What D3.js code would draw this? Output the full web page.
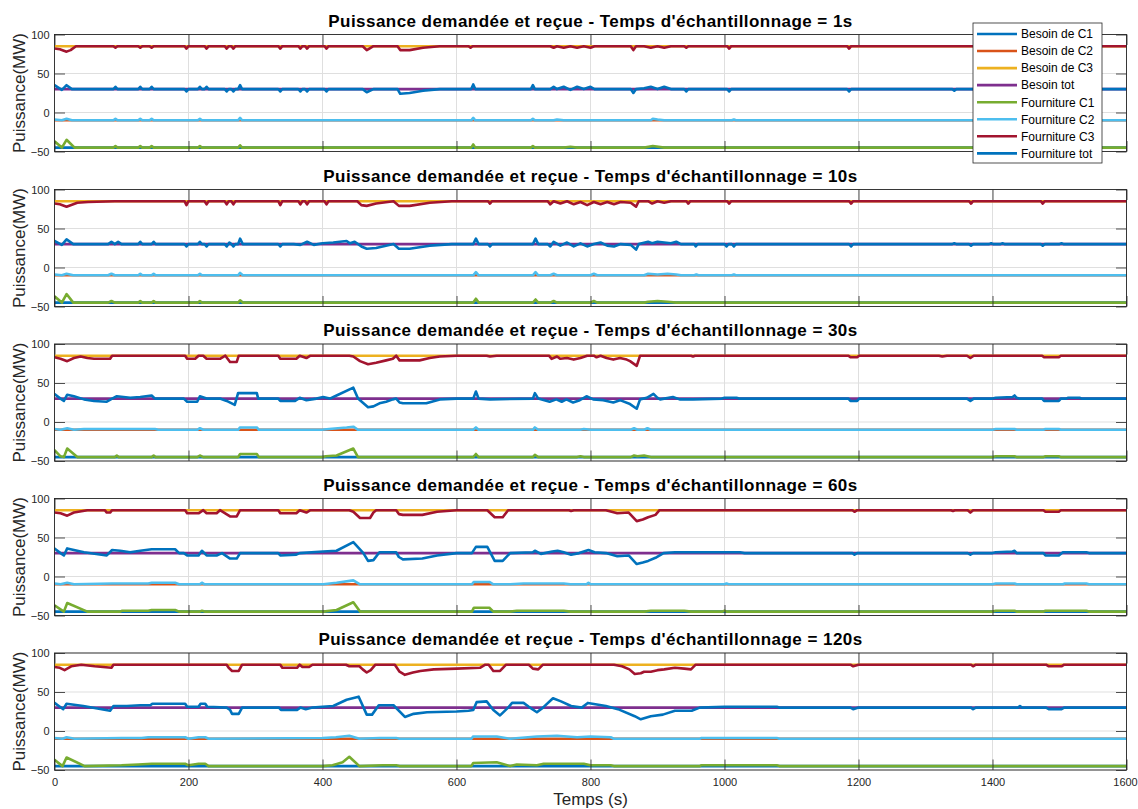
<!DOCTYPE html>
<html>
<head>
<meta charset="utf-8">
<script src="https://cdn.jsdelivr.net/npm/d3@7"></script>
<style>
  body { margin: 0; background: #fff; }
  svg { display: block; font-family: "Liberation Sans", Arial, Helvetica, sans-serif; }
</style>
</head>
<body>
<div id="chart"></div>
<script>
// Données : paires [temps (s), puissance (MW)]

const xTicks = [0, 200, 400, 600, 800, 1000, 1200, 1400, 1600];
const yTicks = [-50, 0, 50, 100];
const sampleTimes = ['1s', '10s', '30s', '60s', '120s'];

const seriesNames = ['Besoin de C1', 'Besoin de C2', 'Besoin de C3', 'Besoin tot',
  'Fourniture C1', 'Fourniture C2', 'Fourniture C3', 'Fourniture tot'];
const seriesColors = ['#0072BD', '#D95319', '#EDB120', '#7E2F8E',
  '#77AC30', '#4DBEEE', '#A2142F', '#0072BD'];

// besoins (identiques pour les 5 essais)
const besoinC1 = [[0, -45], [1600, -45]];
const besoinC2 = [[0, -10], [1600, -10]];
const besoinC3 = [[0, 85], [1600, 85]];
const besoinTot = [[0, 30], [1600, 30]];

// ---- Te = 1s
const fournC3_1 = [[0,82],[8,81],[18,78],[24,80],[32,85],[88,85],[91,83],[94,85],[125,85],[128,83],[131,85],[142,85],[145,83],[148,85],[194,85],[197,82],[200,85],[224,85],[227,82],[230,85],[254,85],[257,82],[260,85],[264,85],[267,82],[270,85],[334,85],[337,82],[340,85],[364,85],[367,82],[370,85],[374,85],[377,82],[380,85],[403,85],[406,82],[409,85],[460,85],[466,80],[470,82],[476,85],[512,85],[516,80],[530,80],[550,83],[575,85],[618,85],[621,83],[624,85],[740,85],[745,83],[750,85],[760,83],[770,85],[780,83],[790,85],[800,83],[806,85],[860,85],[864,80],[868,85],[880,85],[890,83],[900,85],[910,83],[920,85],[940,85],[943,83],[946,85],[1004,85],[1007,82],[1010,85],[1183,85],[1186,82],[1189,85],[1600,85]];
const fournTot_1 = [[0,35],[11,29],[18,35],[26,30],[88,30],[91,33],[94,30],[125,30],[128,33],[131,30],[142,30],[145,33],[148,30],[194,30],[197,27],[200,30],[214,30],[217,33],[220,30],[224,30],[227,33],[230,30],[254,30],[257,27],[260,30],[264,30],[267,27],[270,30],[274,30],[277,35],[280,30],[334,30],[337,27],[340,30],[364,30],[367,27],[370,30],[374,30],[377,27],[380,30],[403,30],[406,27],[409,30],[460,30],[466,26],[476,30],[512,30],[516,24],[530,25],[550,28],[575,30],[622,30],[625,36],[628,30],[711,30],[714,35],[717,30],[740,30],[745,33],[750,30],[760,33],[770,29],[780,33],[790,30],[800,33],[806,30],[860,30],[864,25],[868,30],[880,31],[890,33],[900,30],[910,33],[920,30],[940,30],[943,27],[946,30],[1004,30],[1007,27],[1010,30],[1183,30],[1186,27],[1189,30],[1340,30],[1343,28],[1346,30],[1600,30]];
const fournC2_1 = [[0,-9],[11,-10],[18,-8],[26,-10],[88,-10],[91,-8],[94,-10],[125,-10],[128,-8],[131,-10],[142,-10],[145,-8],[148,-10],[214,-10],[217,-8],[220,-10],[274,-10],[277,-7],[280,-10],[622,-10],[625,-7],[628,-10],[711,-10],[714,-8],[717,-10],[745,-10],[750,-9],[760,-10],[890,-10],[893,-8],[900,-9],[910,-10],[1011,-10],[1014,-9],[1017,-10],[1600,-10]];
const fournC1_1 = [[0,-37],[11,-45],[18,-35],[24,-40],[30,-45],[88,-45],[91,-43],[94,-45],[125,-45],[128,-43],[131,-45],[142,-45],[145,-43],[148,-45],[214,-45],[217,-43],[220,-45],[274,-45],[277,-42],[280,-45],[622,-45],[625,-41],[628,-45],[711,-45],[714,-43],[717,-45],[760,-45],[770,-44],[780,-45],[880,-45],[893,-43],[910,-45],[1600,-45]];

// ---- Te = 10s
const fournC3_10 = [[0,82],[8,81],[18,78],[34,83],[50,84],[90,85],[194,85],[197,80],[200,85],[224,85],[227,81],[230,85],[254,85],[257,81],[260,85],[264,85],[267,81],[270,85],[334,85],[337,80],[340,85],[364,85],[367,81],[370,85],[374,85],[377,81],[380,85],[403,85],[406,81],[409,85],[452,85],[458,80],[466,79],[480,82],[506,85],[514,79],[530,79],[560,83],[593,85],[647,85],[650,82],[653,85],[736,85],[740,81],[745,85],[755,82],[765,85],[775,81],[785,84],[795,80],[805,84],[815,81],[825,84],[835,81],[845,84],[860,83],[868,78],[872,85],[886,85],[892,82],[900,85],[910,83],[920,85],[943,85],[946,82],[949,85],[1004,85],[1007,82],[1010,85],[1186,85],[1189,82],[1192,85],[1365,85],[1368,82],[1371,85],[1472,85],[1475,82],[1478,85],[1600,85]];
const fournTot_10 = [[0,34],[11,29],[18,36],[28,30],[80,30],[85,33],[90,30],[95,33],[100,30],[125,30],[128,33],[131,30],[145,30],[148,33],[151,30],[194,30],[197,27],[200,30],[214,30],[217,33],[220,30],[224,30],[227,27],[230,30],[254,30],[257,27],[261,32],[264,30],[267,27],[270,30],[274,30],[277,37],[281,30],[334,30],[337,27],[340,30],[357,30],[367,29],[377,33],[387,29],[400,31],[416,32],[426,33],[436,34],[441,31],[448,33],[458,27],[466,24],[480,25],[506,30],[514,24],[530,24],[560,28],[593,30],[625,30],[629,37],[633,30],[647,30],[650,27],[653,30],[714,30],[718,37],[722,30],[736,30],[740,27],[745,33],[755,28],[765,32],[775,27],[785,31],[795,27],[805,30],[815,32],[825,28],[835,27],[845,30],[860,29],[868,23],[872,30],[886,33],[892,31],[900,33],[910,32],[920,31],[928,33],[935,30],[955,30],[957,27],[960,30],[1000,30],[1003,27],[1006,30],[1011,30],[1014,27],[1017,30],[1186,30],[1189,27],[1192,30],[1340,30],[1343,31],[1346,30],[1365,30],[1368,28],[1371,30],[1395,30],[1398,31],[1401,30],[1412,30],[1415,31],[1418,30],[1472,30],[1475,28],[1478,30],[1500,30],[1503,31],[1506,30],[1600,30]];
const fournC2_10 = [[0,-9],[11,-10],[18,-8],[28,-10],[80,-10],[85,-8],[90,-10],[125,-10],[128,-8],[131,-10],[145,-10],[148,-8],[151,-10],[214,-10],[217,-8],[220,-10],[274,-10],[277,-7],[281,-10],[625,-10],[629,-6],[633,-10],[714,-10],[718,-6],[722,-10],[740,-10],[745,-8],[750,-10],[800,-10],[805,-8],[810,-10],[880,-10],[886,-8],[900,-9],[915,-8],[928,-9],[935,-10],[955,-10],[958,-9],[961,-10],[1011,-10],[1014,-9],[1017,-10],[1600,-10]];
const fournC1_10 = [[0,-37],[11,-45],[18,-34],[28,-45],[80,-45],[85,-43],[90,-45],[125,-45],[128,-43],[131,-45],[145,-45],[148,-43],[151,-45],[214,-45],[217,-43],[220,-45],[274,-45],[277,-42],[281,-45],[625,-45],[629,-40],[633,-45],[714,-45],[718,-41],[722,-45],[740,-45],[745,-43],[750,-45],[800,-45],[805,-43],[810,-45],[880,-45],[886,-44],[900,-43],[915,-44],[928,-45],[1600,-45]];

// ---- Te = 30s
const fournC3_30 = [[0,83],[9,81],[19,78],[29,82],[39,84],[49,82],[59,81],[83,81],[86,85],[195,85],[198,81],[210,81],[215,85],[222,85],[227,81],[247,81],[255,85],[262,77],[272,77],[275,85],[334,85],[337,81],[361,81],[366,85],[376,82],[382,85],[440,85],[446,84],[456,78],[468,74],[480,76],[495,79],[505,81],[510,85],[515,79],[545,79],[560,82],[575,84],[600,85],[645,85],[650,84],[660,85],[738,85],[742,81],[750,84],[755,81],[765,82],[775,80],[785,82],[795,85],[805,85],[809,83],[815,85],[824,82],[834,80],[844,82],[854,80],[859,78],[869,72],[874,85],[950,85],[953,84],[956,85],[1185,85],[1188,83],[1198,83],[1201,85],[1320,85],[1325,84],[1332,85],[1362,85],[1367,82],[1372,85],[1474,85],[1477,83],[1499,83],[1502,85],[1600,85]];
const fournTot_30 = [[0,36],[9,30],[14,27],[19,35],[29,33],[44,29],[59,27],[78,26],[86,30],[93,33],[113,31],[128,32],[145,34],[150,30],[193,30],[198,26],[213,26],[217,33],[227,30],[247,30],[257,27],[269,22],[274,37],[302,37],[304,30],[334,30],[337,27],[359,27],[366,31],[376,28],[391,30],[401,32],[411,30],[421,34],[446,44],[453,30],[468,19],[476,20],[485,24],[495,26],[505,29],[510,30],[515,25],[520,24],[555,24],[575,29],[600,30],[625,30],[629,39],[633,30],[650,29],[714,30],[717,37],[722,30],[739,26],[749,29],[757,26],[764,29],[774,25],[784,28],[794,33],[804,29],[819,28],[834,25],[844,28],[859,23],[869,17],[874,29],[884,31],[894,36],[900,31],[904,29],[923,32],[933,29],[953,29],[996,30],[1000,31],[1018,31],[1022,30],[1185,30],[1188,27],[1198,27],[1201,30],[1362,30],[1367,27],[1372,30],[1400,30],[1405,31],[1430,32],[1433,34],[1436,31],[1440,30],[1474,30],[1477,27],[1499,27],[1502,30],[1510,30],[1513,31],[1530,31],[1533,30],[1600,30]];
const fournC2_30 = [[0,-9],[9,-10],[19,-8],[29,-10],[44,-9],[150,-9],[155,-10],[213,-10],[217,-8],[222,-10],[274,-10],[277,-7],[302,-7],[305,-10],[399,-10],[410,-9],[436,-7],[446,-6],[453,-10],[625,-10],[629,-7],[633,-10],[714,-10],[717,-7],[722,-10],[785,-10],[790,-9],[800,-10],[860,-10],[865,-8],[870,-10],[880,-10],[885,-8],[890,-10],[1400,-10],[1405,-9],[1433,-9],[1436,-10],[1476,-10],[1479,-9],[1499,-9],[1502,-10],[1600,-10]];
const fournC1_30 = [[0,-36],[9,-44],[14,-45],[19,-34],[34,-45],[90,-45],[93,-43],[96,-45],[145,-45],[148,-43],[151,-45],[213,-45],[217,-43],[222,-45],[274,-45],[277,-41],[302,-41],[305,-45],[399,-45],[405,-44],[421,-43],[446,-34],[453,-45],[625,-45],[629,-41],[633,-45],[714,-45],[717,-42],[722,-45],[780,-45],[785,-44],[790,-45],[860,-45],[865,-43],[870,-44],[880,-43],[890,-45],[1400,-45],[1405,-44],[1433,-44],[1436,-45],[1476,-45],[1479,-44],[1499,-44],[1502,-45],[1600,-45]];

// ---- Te = 60s
const fournC3_60 = [[0,82],[9,81],[19,78],[29,82],[49,85],[75,85],[78,82],[83,82],[86,85],[195,85],[198,81],[215,81],[222,85],[227,81],[242,81],[247,85],[262,77],[272,77],[277,85],[334,85],[337,81],[361,81],[366,85],[376,82],[382,85],[440,85],[446,83],[456,75],[471,75],[476,82],[480,85],[510,85],[514,80],[520,79],[549,79],[571,83],[600,85],[646,85],[657,76],[669,76],[677,85],[768,85],[771,84],[775,85],[823,85],[840,81],[857,82],[869,71],[878,73],[886,76],[897,79],[903,85],[1191,85],[1194,83],[1198,85],[1338,85],[1341,84],[1344,85],[1363,85],[1367,82],[1371,85],[1476,85],[1479,83],[1499,83],[1502,85],[1600,85]];
const fournTot_60 = [[0,36],[9,30],[14,27],[19,36],[44,31],[78,27],[86,34],[98,33],[113,31],[128,33],[145,35],[180,35],[186,30],[193,30],[198,27],[215,27],[220,33],[227,27],[242,27],[250,30],[262,23],[272,23],[277,30],[334,30],[337,27],[361,28],[366,30],[401,32],[421,33],[446,44],[461,30],[468,20],[476,21],[485,31],[510,31],[514,25],[520,22],[549,23],[571,27],[600,30],[623,30],[629,38],[646,38],[657,20],[669,20],[680,30],[714,31],[717,33],[726,29],[743,32],[751,33],[760,31],[771,28],[783,30],[797,34],[806,31],[823,30],[840,26],[857,27],[869,16],[878,18],[886,20],[897,24],[909,30],[926,31],[1000,31],[1023,31],[1030,30],[1191,30],[1194,28],[1198,30],[1363,30],[1367,28],[1371,30],[1400,30],[1405,31],[1430,32],[1433,33],[1436,30],[1476,30],[1479,27],[1499,27],[1505,31],[1540,31],[1544,30],[1600,30]];
const fournC2_60 = [[0,-9],[9,-10],[19,-8],[29,-10],[86,-9],[140,-9],[145,-8],[180,-8],[186,-10],[217,-10],[220,-8],[224,-10],[401,-10],[421,-8],[446,-5],[456,-10],[623,-10],[626,-7],[649,-7],[655,-10],[680,-10],[700,-9],[760,-9],[770,-10],[794,-10],[797,-8],[800,-10],[1000,-10],[1003,-9],[1006,-10],[1400,-10],[1405,-9],[1433,-9],[1436,-10],[1505,-10],[1508,-9],[1540,-9],[1544,-10],[1600,-10]];
const fournC1_60 = [[0,-37],[14,-45],[19,-34],[49,-45],[98,-45],[101,-44],[140,-44],[145,-43],[180,-43],[186,-45],[217,-45],[220,-44],[224,-45],[401,-45],[421,-43],[446,-33],[456,-45],[623,-45],[626,-40],[649,-40],[655,-45],[680,-45],[690,-44],[760,-44],[770,-45],[880,-45],[890,-44],[940,-44],[950,-45],[997,-45],[1000,-44],[1003,-45],[1400,-45],[1405,-44],[1433,-44],[1436,-45],[1476,-45],[1479,-44],[1540,-44],[1544,-45],[1600,-45]];

// ---- Te = 120s
const fournC3_120 = [[0,82],[8,81],[15,78],[25,83],[40,85],[60,83],[85,81],[88,85],[257,85],[260,81],[265,77],[275,77],[280,85],[337,85],[340,81],[362,81],[366,85],[370,82],[380,82],[385,85],[435,85],[440,83],[455,83],[460,79],[466,75],[472,78],[479,85],[508,85],[515,76],[523,72],[535,75],[546,77],[566,79],[600,80],[635,81],[643,85],[648,85],[655,77],[665,77],[674,85],[708,85],[714,80],[722,79],[729,85],[835,85],[847,83],[858,79],[866,73],[875,74],[880,76],[890,76],[900,78],[910,79],[926,81],[940,80],[950,79],[957,85],[1188,85],[1192,83],[1200,85],[1368,85],[1371,83],[1375,85],[1480,85],[1484,83],[1503,83],[1507,85],[1600,85]];
const fournTot_120 = [[0,36],[8,31],[13,28],[18,35],[43,32],[83,26],[88,32],[108,32],[128,33],[143,33],[146,35],[195,35],[198,31],[215,31],[218,35],[225,35],[228,31],[257,30],[262,27],[265,22],[275,22],[280,30],[335,30],[338,27],[362,27],[367,30],[375,28],[385,30],[400,31],[416,32],[436,40],[454,44],[466,21],[474,21],[484,33],[506,33],[523,18],[536,22],[556,24],[600,25],[618,26],[625,27],[630,37],[645,38],[655,27],[665,20],[677,30],[683,36],[700,36],[708,31],[720,24],[729,30],[744,42],[756,38],[771,32],[787,30],[796,36],[823,32],[841,28],[866,19],[875,15],[890,19],[908,21],[926,26],[951,26],[963,30],[1000,31],[1078,31],[1082,30],[1188,30],[1192,28],[1200,30],[1368,30],[1371,28],[1375,30],[1438,30],[1441,32],[1444,30],[1480,30],[1484,28],[1503,28],[1507,30],[1600,30]];
const fournC2_120 = [[0,-9],[12,-10],[18,-8],[30,-10],[100,-9],[130,-9],[140,-8],[195,-8],[200,-10],[215,-8],[225,-8],[230,-10],[400,-9],[420,-8],[440,-6],[455,-10],[485,-9],[510,-9],[515,-10],[622,-10],[625,-7],[660,-7],[680,-10],[720,-7],[750,-6],[780,-8],[800,-7],[830,-8],[835,-10],[963,-10],[965,-9],[1078,-9],[1082,-10],[1600,-10]];
const fournC1_120 = [[0,-37],[12,-45],[18,-34],[45,-45],[100,-44],[125,-43],[145,-42],[195,-42],[200,-44],[215,-42],[225,-42],[230,-45],[400,-45],[415,-44],[430,-40],[440,-33],[455,-45],[490,-44],[510,-44],[515,-45],[622,-45],[625,-41],[660,-40],[680,-45],[690,-43],[720,-44],[730,-42],[790,-42],[800,-44],[830,-44],[835,-45],[963,-45],[965,-44],[1078,-44],[1082,-45],[1600,-45]];

// un tableau de 8 courbes par sous-figure, dans l'ordre de la légende
const panels = [
  [fournC1_1, fournC2_1, fournC3_1, fournTot_1],
  [fournC1_10, fournC2_10, fournC3_10, fournTot_10],
  [fournC1_30, fournC2_30, fournC3_30, fournTot_30],
  [fournC1_60, fournC2_60, fournC3_60, fournTot_60],
  [fournC1_120, fournC2_120, fournC3_120, fournTot_120]
].map(f => [besoinC1, besoinC2, besoinC3, besoinTot, ...f]);

// ------------------------------------------------------------------
const W = 1138, H = 809;
const left = 54.5, right = 1126.5;
const panelH = 117;
const panelTops = [34.5, 189.5, 344, 498.5, 653];
const axisColor = '#262626';

const svg = d3.select('#chart').append('svg')
  .attr('width', W)
  .attr('height', H);

const x = d3.scaleLinear().domain([0, 1600]).range([left, right]);

panels.forEach((series, i) => drawPanel(series, i));
drawLegend();

// titre de l'axe x (sous la dernière figure)
svg.append('text')
  .attr('x', (left + right) / 2)
  .attr('y', 805)
  .attr('text-anchor', 'middle')
  .attr('font-size', 17)
  .attr('fill', axisColor)
  .text('Temps (s)');

function drawPanel(series, i) {
  const top = panelTops[i];
  const bottom = top + panelH;
  const y = d3.scaleLinear().domain([-50, 100]).range([bottom, top]);
  const g = svg.append('g');

  // grille
  g.append('g').selectAll('line.vx')
    .data(xTicks)
    .enter().append('line')
      .attr('x1', d => x(d)).attr('x2', d => x(d))
      .attr('y1', top).attr('y2', bottom)
      .attr('stroke', '#dfdfdf');
  g.append('g').selectAll('line.hy')
    .data(yTicks)
    .enter().append('line')
      .attr('x1', left).attr('x2', right)
      .attr('y1', d => y(d)).attr('y2', d => y(d))
      .attr('stroke', '#dfdfdf');

  // courbes
  g.append('clipPath')
    .attr('id', 'clip' + i)
    .append('rect')
      .attr('x', left).attr('y', top)
      .attr('width', right - left).attr('height', panelH);

  const line = d3.line()
    .x(d => x(d[0]))
    .y(d => y(d[1]));

  g.append('g')
    .attr('clip-path', `url(#clip${i})`)
    .selectAll('path')
    .data(series)
    .enter().append('path')
      .attr('d', line)
      .attr('fill', 'none')
      .attr('stroke', (d, k) => seriesColors[k])
      .attr('stroke-width', 2.6)
      .attr('stroke-linejoin', 'round')
      .attr('stroke-linecap', 'round');

  // axes avec graduations vers l'intérieur
  const last = i === panels.length - 1;
  const axes = [
    [d3.axisBottom(x).tickValues(xTicks).tickPadding(8)
      .tickFormat(last ? d3.format('d') : ''), `translate(0,${bottom})`],
    [d3.axisTop(x).tickValues(xTicks).tickFormat(''), `translate(0,${top})`],
    [d3.axisLeft(y).tickValues(yTicks).tickPadding(5), `translate(${left},0)`],
    [d3.axisRight(y).tickValues(yTicks).tickFormat(''), `translate(${right},0)`]
  ];
  axes.forEach(([ax, tr]) => {
    const a = g.append('g')
      .attr('transform', tr)
      .call(ax.tickSizeInner(-10.5).tickSizeOuter(0));
    a.select('.domain').remove();
    a.selectAll('line').attr('stroke', axisColor).attr('stroke-width', 0.8);
    a.selectAll('text')
      .attr('fill', axisColor)
      .attr('font-size', 11)
      .attr('font-family', '"Liberation Sans", Arial, sans-serif');
  });
  // le dernier libellé (1600) touche le bord droit de la figure
  g.selectAll('text').filter(d => d === 1600).attr('dx', -1.5);

  // cadre
  g.append('rect')
    .attr('x', left).attr('y', top)
    .attr('width', right - left).attr('height', panelH)
    .attr('fill', 'none')
    .attr('stroke', axisColor)
    .attr('stroke-width', 0.9);

  // titre
  g.append('text')
    .attr('x', (left + right) / 2)
    .attr('y', top - 8)
    .attr('text-anchor', 'middle')
    .attr('font-size', 17)
    .attr('font-weight', 'bold')
    .attr('letter-spacing', 0.45)
    .attr('fill', '#000')
    .text(`Puissance demandée et reçue - Temps d'échantillonnage = ${sampleTimes[i]}`);

  // titre de l'axe y
  g.append('text')
    .attr('transform', `translate(19,${(top + bottom) / 2}) rotate(-90)`)
    .attr('text-anchor', 'middle')
    .attr('dy', '0.35em')
    .attr('font-size', 17)
    .attr('fill', axisColor)
    .text('Puissance(MW)');
}

function drawLegend() {
  const lx = 973, ly = 23, lw = 129, lh = 140;
  const rowH = 17.05;
  const lg = svg.append('g');

  lg.append('rect')
    .attr('x', lx).attr('y', ly)
    .attr('width', lw).attr('height', lh)
    .attr('fill', '#fff')
    .attr('stroke', axisColor)
    .attr('stroke-width', 0.8);

  const rows = lg.selectAll('g.row')
    .data(seriesNames)
    .enter().append('g')
      .attr('transform', (d, k) => `translate(0,${ly + 11 + k * rowH})`);

  rows.append('line')
    .attr('x1', lx + 4).attr('x2', lx + 44)
    .attr('stroke', (d, k) => seriesColors[k])
    .attr('stroke-width', 2.6);

  rows.append('text')
    .attr('x', lx + 48)
    .attr('dy', '0.36em')
    .attr('font-size', 12)
    .attr('fill', '#000')
    .text(d => d);
}
</script>
</body>
</html>
